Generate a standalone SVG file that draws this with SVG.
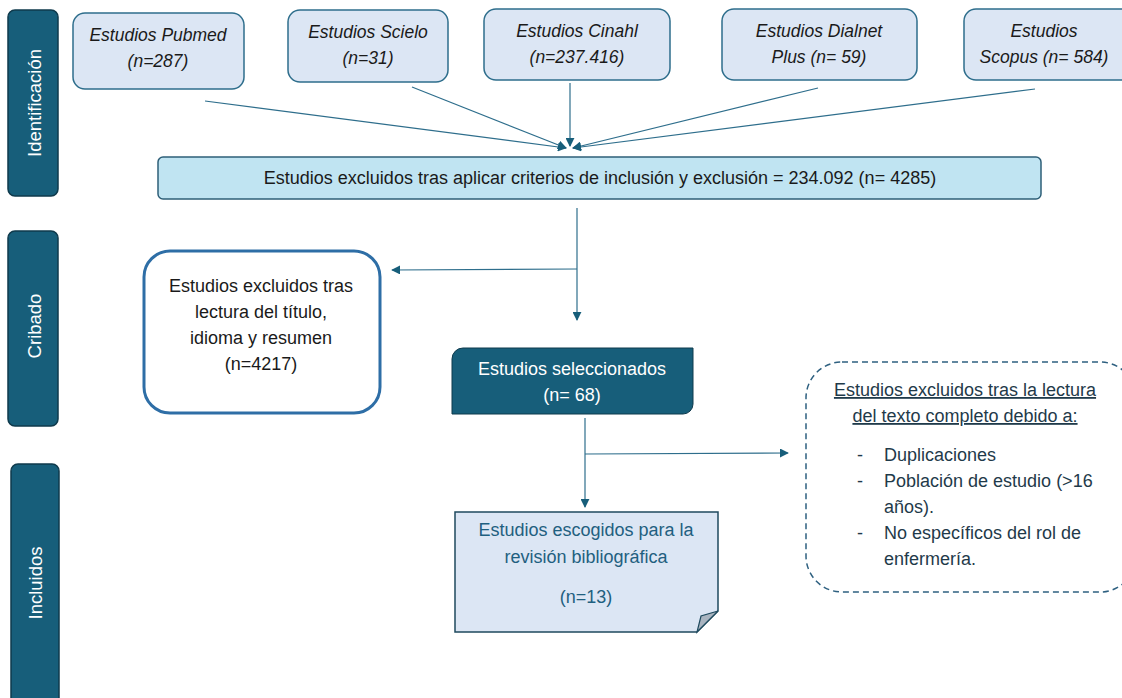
<svg xmlns="http://www.w3.org/2000/svg" width="1122" height="698" viewBox="0 0 1122 698">
<defs>
<style>
.bar{fill:#175e7a;stroke:#0f3a4c;stroke-width:1.5}
.barT{fill:#fff;font-family:"Liberation Sans",Arial,sans-serif;font-size:18.5px;text-anchor:middle}
.src{fill:#dce6f4;stroke:#2e6e8c;stroke-width:1.5}
.srcT{fill:#1a1a1a;font-family:"Liberation Sans",Arial,sans-serif;font-size:17.5px;font-style:italic;text-anchor:middle}
.t{fill:#1a1a1a;font-family:"Liberation Sans",Arial,sans-serif;font-size:18px;text-anchor:middle}
.con{fill:none;stroke:#2e6e8c;stroke-width:1.2}
</style>
<marker id="ah" viewBox="0 0 10 10" refX="9" refY="5" markerWidth="9" markerHeight="9" orient="auto" markerUnits="userSpaceOnUse">
<path d="M0,0 L10,5 L0,10 z" fill="#175e7a"/>
</marker>
</defs>
<rect width="1122" height="698" fill="#fff"/>

<g id="bar-identificacion"><rect class="bar" x="8" y="10" width="50" height="186" rx="7"/><text class="barT" transform="translate(41,103) rotate(-90)">Identificación</text></g>
<g id="bar-cribado"><rect class="bar" x="8" y="231" width="50" height="195" rx="7"/><text class="barT" transform="translate(41,326) rotate(-90)">Cribado</text></g>
<g id="bar-incluidos"><rect class="bar" x="11" y="464" width="48" height="250" rx="7"/><text class="barT" transform="translate(42,583) rotate(-90)">Incluidos</text></g>

<g id="src-pubmed"><rect class="src" x="73" y="13" width="171" height="76" rx="12"/><text class="srcT" x="158" y="41">Estudios Pubmed</text><text class="srcT" x="158" y="67">(n=287)</text></g>
<g id="src-scielo"><rect class="src" x="288" y="10" width="160" height="72" rx="12"/><text class="srcT" x="368" y="38">Estudios Scielo</text><text class="srcT" x="368" y="64">(n=31)</text></g>
<g id="src-cinahl"><rect class="src" x="484" y="9" width="186" height="71" rx="12"/><text class="srcT" x="577" y="37">Estudios Cinahl</text><text class="srcT" x="577" y="63">(n=237.416)</text></g>
<g id="src-dialnet"><rect class="src" x="722" y="9" width="195" height="71" rx="12"/><text class="srcT" x="819" y="37">Estudios Dialnet</text><text class="srcT" x="819" y="63">Plus (n= 59)</text></g>
<g id="src-scopus"><rect class="src" x="964" y="9" width="170" height="71" rx="12"/><text class="srcT" x="1044" y="37">Estudios</text><text class="srcT" x="1044" y="63">Scopus (n= 584)</text></g>

<g id="connectors">
<line class="con" x1="205" y1="101" x2="566" y2="148" marker-end="url(#ah)"/>
<line class="con" x1="412" y1="87" x2="566" y2="148" marker-end="url(#ah)"/>
<line class="con" x1="570" y1="83" x2="570" y2="146" marker-end="url(#ah)"/>
<line class="con" x1="818" y1="88" x2="573" y2="148" marker-end="url(#ah)"/>
<line class="con" x1="1035" y1="89" x2="573" y2="148" marker-end="url(#ah)"/>
<line class="con" x1="577" y1="208" x2="577" y2="320" marker-end="url(#ah)"/>
<line class="con" x1="577" y1="269" x2="392" y2="270" marker-end="url(#ah)"/>
<line class="con" x1="585" y1="418" x2="585" y2="507" marker-end="url(#ah)"/>
<line class="con" x1="585" y1="454" x2="788" y2="453" marker-end="url(#ah)"/>
</g>

<g id="main"><rect x="158" y="157" width="883" height="42" rx="5" fill="#c0e4f2" stroke="#2e5f78" stroke-width="1.5"/><text class="t" x="600" y="184">Estudios excluidos tras aplicar criterios de inclusión y exclusión = 234.092 (n= 4285)</text></g>

<g id="excluded-title"><rect x="144" y="251" width="236" height="162" rx="26" fill="#fff" stroke="#2e6ea6" stroke-width="3"/>
<text class="t" x="261" y="292">Estudios excluidos tras</text><text class="t" x="261" y="318">lectura del título,</text><text class="t" x="261" y="344">idioma y resumen</text><text class="t" x="261" y="370">(n=4217)</text></g>

<g id="selected"><path d="M463,348 H693 V404 A10,10 0 0 1 683,414 H452 V359 A11,11 0 0 1 463,348 Z" fill="#175e7a" stroke="#0f3a4c" stroke-width="1"/>
<text class="t" x="572" y="375" style="fill:#fff">Estudios seleccionados</text><text class="t" x="572" y="401" style="fill:#fff">(n= 68)</text></g>

<g id="chosen"><path d="M455,512 H718 V611 L697,632 H455 Z" fill="#dce6f4" stroke="#1f4a5e" stroke-width="1.5"/>
<path d="M718,611 L697,632 L701,616 Z" fill="#a9b4c0" stroke="#1f4a5e" stroke-width="1.2"/>
<text class="t" x="586" y="536" style="fill:#1f6080">Estudios escogidos para la</text><text class="t" x="586" y="563" style="fill:#1f6080">revisión bibliográfica</text><text class="t" x="586" y="603" style="fill:#1f6080">(n=13)</text></g>

<g id="excluded-full"><rect x="806" y="362" width="330" height="230" rx="36" fill="#fff" stroke="#2e6080" stroke-width="1.5" stroke-dasharray="6,4"/>
<text class="t" x="965" y="396" style="fill:#1f3a4a;text-decoration:underline">Estudios excluidos tras la lectura</text>
<text class="t" x="965" y="422" style="fill:#1f3a4a;text-decoration:underline">del texto completo debido a:</text>
<g style="fill:#1f3a4a;font-family:'Liberation Sans',Arial,sans-serif;font-size:18px">
<text x="857" y="461">-</text><text x="884" y="461">Duplicaciones</text>
<text x="857" y="487">-</text><text x="884" y="487">Población de estudio (&gt;16</text>
<text x="884" y="513">años).</text>
<text x="857" y="539">-</text><text x="884" y="539">No específicos del rol de</text>
<text x="884" y="565">enfermería.</text>
</g></g>
</svg>
